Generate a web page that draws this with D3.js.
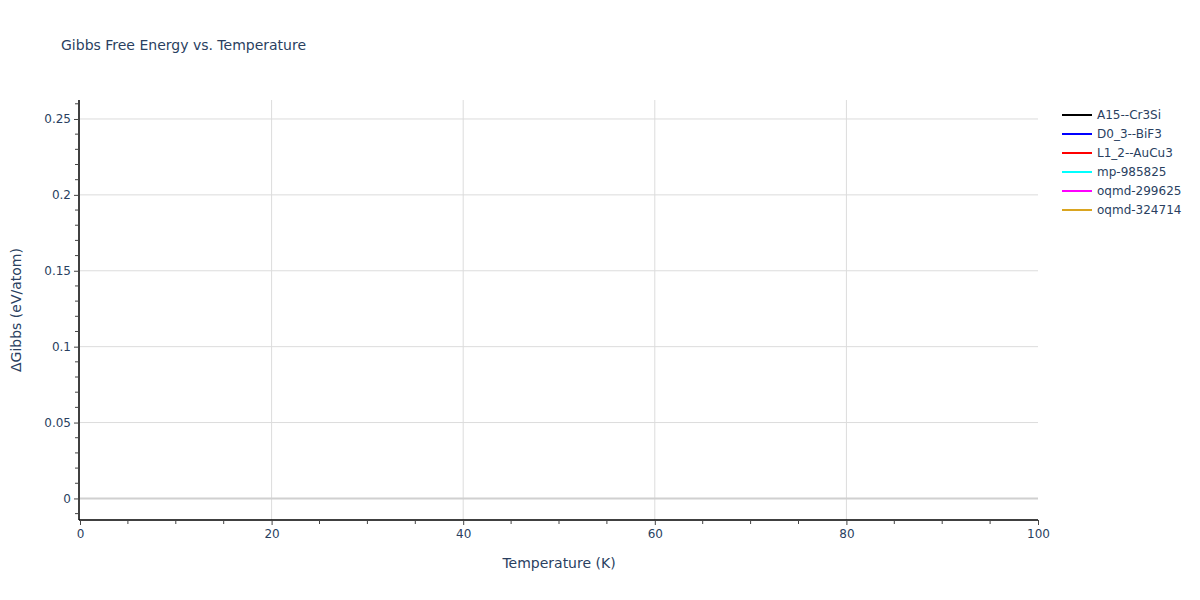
<!DOCTYPE html>
<html>
<head>
<meta charset="utf-8">
<script src="https://cdn.jsdelivr.net/npm/d3@7"></script>
<style>
  body { margin: 0; background: #fff; }
  text { font-family: "DejaVu Sans", sans-serif; }
</style>
</head>
<body>
<svg id="canvas" width="1200" height="600"></svg>
<script>
// series names and colours (legend)
let seriesNames = ['A15--Cr3Si', 'D0_3--BiF3', 'L1_2--AuCu3', 'mp-985825', 'oqmd-299625', 'oqmd-324714']
let seriesColors = ['black', 'blue', 'red', 'cyan', 'magenta', 'goldenrod']
// no points fall inside the shown window
let seriesValues = [[], [], [], [], [], []]

let xTicks = [0, 20, 40, 60, 80, 100]
let yTicks = [0, 0.05, 0.1, 0.15, 0.2, 0.25]

let canvas = d3.select('#canvas')
let fontColor = '#2a3f5f'

let plotLeft = 80, plotRight = 1038, plotTop = 100, plotBottom = 520

let xScale = d3.scaleLinear().domain([0, 100]).range([plotLeft, plotRight])
let yScale = d3.scaleLinear().domain([-0.0142, 0.2625]).range([plotBottom, plotTop])

// grid
canvas.append('g')
    .selectAll('line')
    .data(xTicks.filter(d => d > 0 && d < 100))
    .enter()
    .append('line')
    .attr('x1', d => xScale(d)).attr('x2', d => xScale(d))
    .attr('y1', plotTop).attr('y2', plotBottom)
    .attr('stroke', '#dcdcdc').attr('stroke-width', 1)

canvas.append('g')
    .selectAll('line')
    .data(yTicks.filter(d => d !== 0))
    .enter()
    .append('line')
    .attr('x1', plotLeft).attr('x2', plotRight)
    .attr('y1', d => yScale(d)).attr('y2', d => yScale(d))
    .attr('stroke', '#dcdcdc').attr('stroke-width', 1)

// zero line
canvas.append('line')
    .attr('x1', plotLeft).attr('x2', plotRight)
    .attr('y1', yScale(0)).attr('y2', yScale(0))
    .attr('stroke', '#d0d0d0').attr('stroke-width', 2)

// data lines
let line = d3.line().x(d => xScale(d[0])).y(d => yScale(d[1]))
seriesValues.forEach((vals, i) => {
    canvas.append('path')
        .datum(vals)
        .attr('d', line)
        .attr('fill', 'none')
        .attr('stroke', seriesColors[i])
        .attr('stroke-width', 2)
})

// x axis
let xAxis = canvas.append('g')
    .attr('transform', 'translate(0,' + plotBottom + ')')
    .call(d3.axisBottom(xScale).tickValues(xTicks).tickSize(5).tickPadding(4))
xAxis.select('.domain').attr('stroke', '#000').attr('stroke-width', 1.5)
    .attr('d', 'M' + (plotLeft - 1) + ',0H' + plotRight)
xAxis.selectAll('.tick line').attr('stroke', '#444')
xAxis.selectAll('text').attr('fill', fontColor).style('font-size', '12px')

let xMinor = d3.range(0, 101, 5).filter(d => d % 20 !== 0)
canvas.append('g')
    .selectAll('line')
    .data(xMinor)
    .enter()
    .append('line')
    .attr('x1', d => xScale(d)).attr('x2', d => xScale(d))
    .attr('y1', plotBottom).attr('y2', plotBottom + 4)
    .attr('stroke', '#444')

// y axis
let yAxis = canvas.append('g')
    .attr('transform', 'translate(' + (plotLeft - 1) + ',0)')
    .call(d3.axisLeft(yScale).tickValues(yTicks).tickSize(5).tickPadding(3)
        .tickFormat(d => d === 0 ? '0' : d3.format('~g')(d)))
yAxis.select('.domain').attr('stroke', '#000').attr('stroke-width', 1.5)
    .attr('d', 'M0,' + plotTop + 'V' + plotBottom)
yAxis.selectAll('.tick line').attr('stroke', '#444')
yAxis.selectAll('text').attr('fill', fontColor).style('font-size', '12px')

let yMinor = d3.range(-1, 27).map(d => d / 100).filter(d => Math.round(d * 100) % 5 !== 0)
canvas.append('g')
    .selectAll('line')
    .data(yMinor)
    .enter()
    .append('line')
    .attr('x1', plotLeft - 5).attr('x2', plotLeft - 1)
    .attr('y1', d => yScale(d)).attr('y2', d => yScale(d))
    .attr('stroke', '#444')

// titles
canvas.append('text')
    .attr('x', 61).attr('y', 50)
    .attr('fill', fontColor)
    .style('font-size', '14px')
    .text('Gibbs Free Energy vs. Temperature')

canvas.append('text')
    .attr('x', (plotLeft + plotRight) / 2).attr('y', 568)
    .attr('text-anchor', 'middle')
    .attr('fill', fontColor)
    .style('font-size', '14px')
    .text('Temperature (K)')

canvas.append('text')
    .attr('transform', 'translate(21,' + ((plotTop + plotBottom) / 2) + ') rotate(-90)')
    .attr('text-anchor', 'middle')
    .attr('fill', fontColor)
    .style('font-size', '14px')
    .text('ΔGibbs (eV/atom)')

// legend
let legend = canvas.append('g')
    .selectAll('g')
    .data(seriesNames)
    .enter()
    .append('g')
    .attr('transform', (d, i) => 'translate(1062,' + (115 + i * 19) + ')')

legend.append('line')
    .attr('x1', 0).attr('x2', 30)
    .attr('stroke', (d, i) => seriesColors[i])
    .attr('stroke-width', 2)

legend.append('text')
    .attr('x', 35).attr('y', 4)
    .attr('fill', fontColor)
    .style('font-size', '12px')
    .text(d => d)
</script>
</body>
</html>
